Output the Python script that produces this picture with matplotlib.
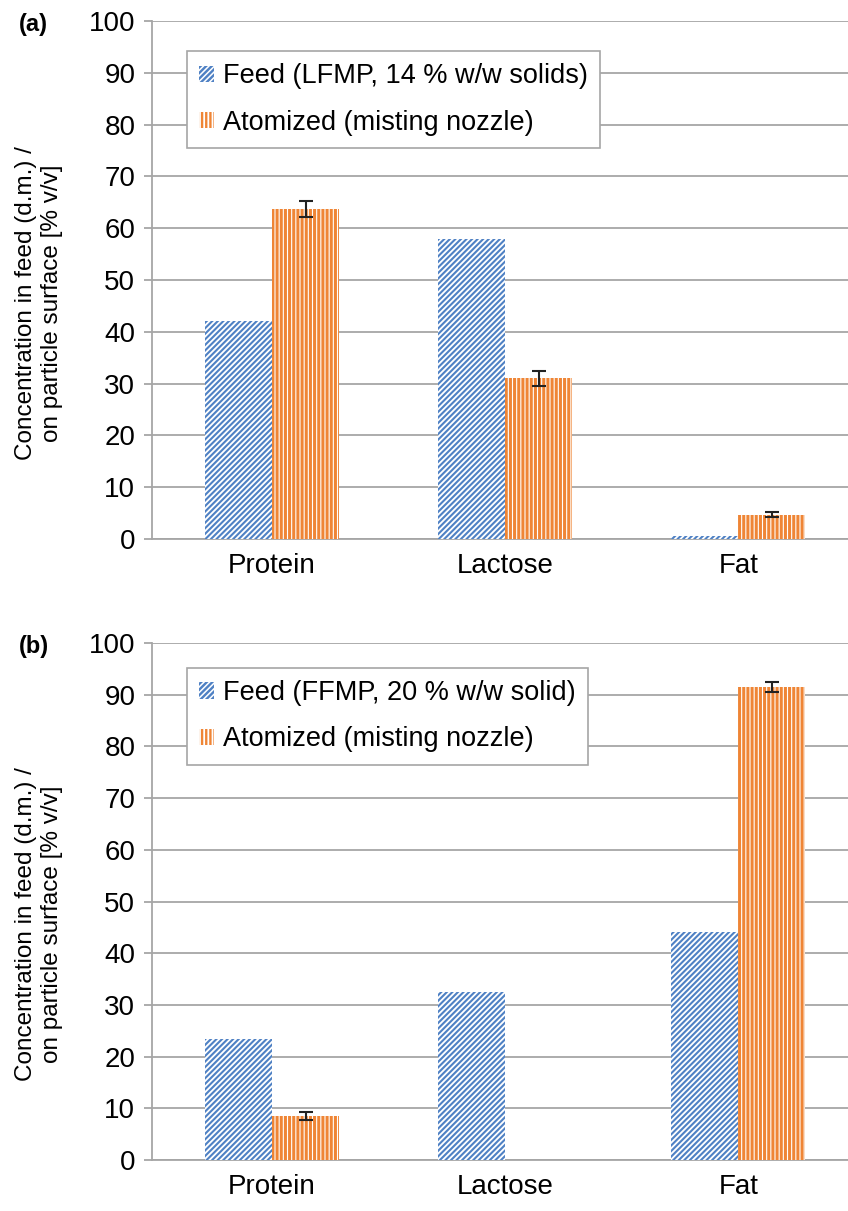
import numpy as np
import matplotlib
matplotlib.use("Agg")
import matplotlib.pyplot as plt

plt.rcParams["font.family"] = ["Liberation Sans", "DejaVu Sans"]
plt.rcParams["hatch.linewidth"] = 1.7

categories = ["Protein", "Lactose", "Fat"]

feed_a = [42.0, 58.0, 0.5]
atom_a = [63.7, 31.0, 4.7]
err_a = [1.5, 1.5, 0.5]

feed_b = [23.5, 32.5, 44.2]
atom_b = [8.5, 0.0, 91.5]
err_b = [0.7, 0.0, 1.0]

labels_a = ["Feed (LFMP, 14 % w/w solids)", "Atomized (misting nozzle)"]
labels_b = ["Feed (FFMP, 20 % w/w solid)", "Atomized (misting nozzle)"]

blue = "#4f81c4"
orange = "#ef8535"
grey = "#a6a6a6"

fig = plt.figure(figsize=(8.48, 12.11), dpi=100)
ax_a = fig.add_axes([0.1792, 0.5549, 0.8208, 0.4277])
ax_b = fig.add_axes([0.1792, 0.0421, 0.8208, 0.4269])

x = np.arange(len(categories))
w = 0.287

def panel(ax, feed, atom, err, labels, tag, leg_top):
    b1 = ax.bar(x - w / 2, feed, w, color="white", edgecolor=blue, hatch="//////",
                linewidth=0, label=labels[0], zorder=3)
    b2 = ax.bar(x + w / 2, atom, w, color="white", edgecolor=orange, hatch="||||",
                linewidth=0, label=labels[1], zorder=3)
    for p in b1:
        if hasattr(p, "set_hatch_linewidth"):
            p.set_hatch_linewidth(1.5)
    for p in b2:
        if hasattr(p, "set_hatch_linewidth"):
            p.set_hatch_linewidth(2.2)
    e = np.array(err)
    show = e > 0
    ax.errorbar((x + w / 2)[show], np.array(atom)[show], yerr=e[show], fmt="none",
                ecolor="#222222", elinewidth=1.5, capsize=5, capthick=1.5, zorder=4)
    ax.set_ylim(0, 100)
    ax.set_yticks(range(0, 101, 10))
    ax.set_xlim(-0.515, 2.47)
    ax.set_xticks(x)
    ax.set_xticklabels(categories)
    ax.yaxis.grid(True, color=grey, linewidth=1.3, zorder=0)
    ax.set_axisbelow(True)
    for s in ["top", "right"]:
        ax.spines[s].set_visible(False)
    ax.spines["left"].set_color(grey)
    ax.spines["bottom"].set_color(grey)
    ax.spines["left"].set_linewidth(1.3)
    ax.spines["bottom"].set_linewidth(1.3)
    ax.tick_params(axis="y", length=6, color=grey, width=1.3, labelsize=20, pad=6)
    ax.tick_params(axis="x", length=0, labelsize=20, pad=10)
    ax.set_ylabel("Concentration in feed (d.m.) /\non particle surface [% v/v]",
                  fontsize=17.5)
    ax.yaxis.set_label_coords(-0.128, 0.456)
    leg = ax.legend(loc="upper left", bbox_to_anchor=(0.05, leg_top), fontsize=19.5,
                    frameon=True, fancybox=False, framealpha=1, edgecolor=grey,
                    handlelength=0.55, handleheight=0.55, handletextpad=0.35,
                    borderpad=0.45, borderaxespad=0, labelspacing=0.75)
    leg.get_frame().set_linewidth(1.2)
    fig.text(0.022, ax.get_position().y1 - 0.003, tag, fontsize=17,
             fontweight="bold", va="center")

panel(ax_a, feed_a, atom_a, err_a, labels_a, "(a)", 0.942)
panel(ax_b, feed_b, atom_b, err_b, labels_b, "(b)", 0.952)

fig.savefig("out.png", dpi=100)
